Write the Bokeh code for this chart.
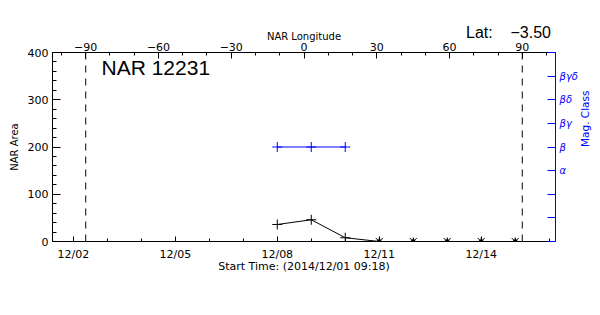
import math
from bokeh.plotting import figure
from bokeh.models import Range1d, LinearAxis, FixedTicker, Label
from bokeh.embed import file_html
from bokeh.resources import INLINE

# ---------------- data ----------------
area_days = [8, 9, 10, 11, 12, 13, 14, 15]          # day of Dec 2014
area_values = [36, 46, 8, 0, 0, 0, 0, 0]
mag_days = [8, 9, 10]
mag_class = [4, 4, 4]                                 # 4 = beta
class_names = {0: "", 1: "", 2: "", 3: "α", 4: "β", 5: "βγ", 6: "βδ", 7: "βγδ", 8: ""}
date_ticks = [2, 5, 8, 11, 14]
date_labels = ["12/02", "12/05", "12/08", "12/11", "12/14"]
lon_ticks = [-90, -60, -30, 0, 30, 60, 90]
lon_labels = ["−90", "−60", "−30", "0", "30", "60", "90"]
limb_lons = [-90, 90]
area_ticks = [0, 100, 200, 300, 400]
region = "NAR 12231"
latitude = "−3.50"
start_label = "Start Time: (2014/12/01 09:18)"

# ---------------- layout helpers ----------------
X0, X1 = 1 + (9 * 60 + 18) / 1440, 16.185
Y0, Y1 = 0, 400
FL, FR, FT, FB = 52, 555, 52, 241
W, H = 600, 315


def px2x(px):
    return X0 + (px - FL) / (FR - FL) * (X1 - X0)


def px2y(py):
    return Y0 + (FB - py) / (FB - FT) * (Y1 - Y0)


BLUE = "#0000ff"
FONT = "DejaVu Sans"

p = figure(width=W, height=H, x_range=Range1d(X0, X1), y_range=Range1d(Y0, Y1),
           output_backend="svg", toolbar_location=None, title=None,
           min_border_left=FL, min_border_right=W - FR,
           min_border_top=FT, min_border_bottom=H - FB)
p.outline_line_color = None
p.grid.visible = False
p.background_fill_color = "white"
p.border_fill_color = "white"

# bottom axis
xa = p.xaxis[0]
xa.ticker = FixedTicker(ticks=date_ticks, minor_ticks=list(range(1, 17)))
xa.major_label_overrides = {t: l for t, l in zip(date_ticks, date_labels)}
xa.major_tick_in = 5
xa.major_tick_out = 0
xa.minor_tick_in = 3
xa.minor_tick_out = 0
xa.major_label_standoff = 6
xa.major_label_text_font = FONT
xa.major_label_text_font_size = "11px"
xa.major_label_text_color = "black"
xa.axis_line_color = "black"
xa.axis_label = start_label
xa.axis_label_text_font = FONT
xa.axis_label_text_font_size = "11px"
xa.axis_label_text_font_style = "normal"
xa.axis_label_text_color = "black"
xa.axis_label_standoff = -4

# left axis
ya = p.yaxis[0]
ya.ticker = FixedTicker(ticks=area_ticks, minor_ticks=list(range(0, 401, 20)))
ya.major_tick_in = 8
ya.major_tick_out = 0
ya.minor_tick_in = 4
ya.minor_tick_out = 0
ya.major_label_standoff = 4
ya.major_label_text_font = FONT
ya.major_label_text_font_size = "11px"
ya.major_label_text_color = "black"
ya.axis_label = "NAR Area"
ya.axis_label_text_font = FONT
ya.axis_label_text_font_size = "10px"
ya.axis_label_text_font_style = "normal"
ya.axis_label_text_color = "black"
ya.axis_label_standoff = 5

# top axis (longitude)
p.extra_x_ranges = {"lon": Range1d(-103.7, 103.7)}
top = LinearAxis(x_range_name="lon",
                 ticker=FixedTicker(ticks=lon_ticks, minor_ticks=list(range(-100, 101, 10))))
top.major_label_overrides = {t: l for t, l in zip(lon_ticks, lon_labels)}
top.major_tick_in = 6
top.major_tick_out = 0
top.minor_tick_in = 3
top.minor_tick_out = 0
top.major_label_standoff = 2
top.major_label_text_font = FONT
top.major_label_text_font_size = "11px"
top.major_label_text_color = "black"
top.axis_label = "NAR Longitude"
top.axis_label_text_font = FONT
top.axis_label_text_font_size = "10px"
top.axis_label_text_font_style = "normal"
top.axis_label_text_color = "black"
top.axis_label_standoff = -2
p.add_layout(top, "above")

# right axis (magnetic class)
p.extra_y_ranges = {"mag": Range1d(0, 8)}
right = LinearAxis(y_range_name="mag",
                   ticker=FixedTicker(ticks=list(class_names.keys()), minor_ticks=[]))
right.major_label_overrides = class_names
right.axis_line_color = BLUE
right.major_tick_line_color = BLUE
right.major_tick_in = 8
right.major_tick_out = 0
right.minor_tick_line_color = None
right.major_label_standoff = 4
right.major_label_text_color = BLUE
right.major_label_text_font = FONT
right.major_label_text_font_size = "10px"
right.major_label_text_font_style = "italic"
right.axis_label = "Mag. Class"
right.axis_label_text_font = FONT
right.axis_label_text_font_size = "10.5px"
right.axis_label_text_font_style = "normal"
right.axis_label_text_color = BLUE
right.axis_label_standoff = 4
try:
    right.axis_label_orientation = math.pi / 2
except (AttributeError, ValueError):
    pass
p.add_layout(right, "right")

# limb lines
p.segment(x0=limb_lons, y0=[Y0] * len(limb_lons), x1=limb_lons, y1=[Y1] * len(limb_lons),
          x_range_name="lon", line_color="black", line_width=1, line_dash="7 6")

# area line
p.line(area_days, area_values, line_color="black", line_width=1)
pos_d = [d for d, a in zip(area_days, area_values) if a > 0]
pos_a = [a for a in area_values if a > 0]
zero_d = [d for d, a in zip(area_days, area_values) if a <= 0]
zero_a = [a for a in area_values if a <= 0]
p.scatter(pos_d, pos_a, marker="cross", size=10, line_color="black", line_width=1)
for ang, ln in [(3 * math.pi / 4, 5), (math.pi / 4, 5), (math.pi / 2, 4)]:
    p.ray(x=zero_d, y=zero_a, length=ln, length_units="screen", angle=ang,
          line_color="black", line_width=1)
p.scatter(zero_d, zero_a, marker="square", size=3, fill_color="black", line_color="black")

# mag class line
p.line(mag_days, mag_class, y_range_name="mag", line_color=BLUE, line_width=1)
p.scatter(mag_days, mag_class, y_range_name="mag", marker="cross", size=10,
          line_color=BLUE, line_width=1)

# texts
p.add_layout(Label(x=px2x(101), y=px2y(66.5), text=region, text_font="Liberation Sans",
                   text_font_size="21px", text_color="black", text_align="left",
                   text_baseline="middle"))
lat_text = "Lat:\u00a0\u00a0\u00a0\u00a0" + latitude
p.add_layout(Label(x=465.5 - FL, y=-4.5, x_units="screen", y_units="screen", text=lat_text,
                   text_font="Liberation Sans", text_font_size="16px", text_color="black",
                   text_align="left", text_baseline="middle"), "above")

open("out.html", "w").write(file_html(p, INLINE))
